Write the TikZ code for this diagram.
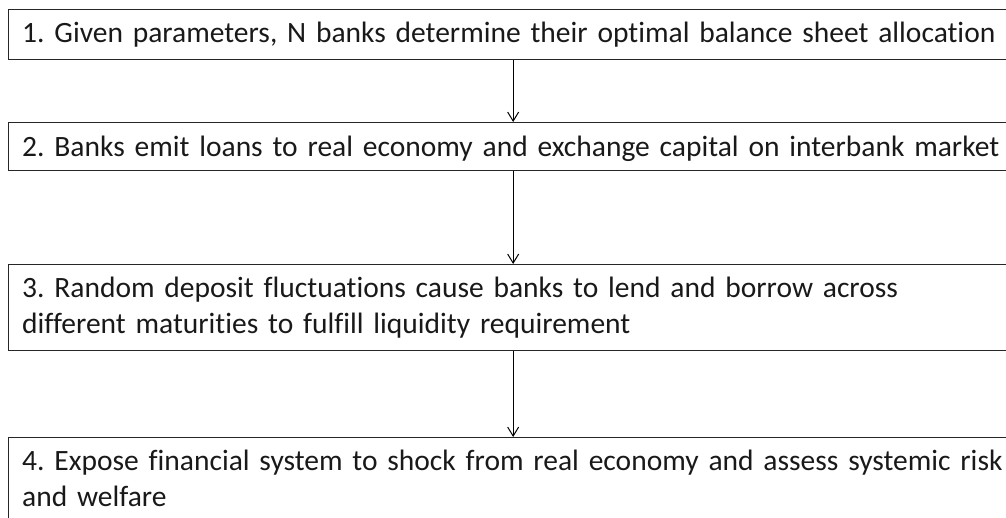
\documentclass[tikz,border=0pt]{standalone}
\usepackage{fontspec}
\setmainfont{Carlito}[Ligatures={NoCommon}]
\usetikzlibrary{arrows.meta}
\begin{document}
\frenchspacing
\begin{tikzpicture}[x=1pt,y=-1pt,
  box/.style={draw=black!85, line width=1.3pt, rectangle, inner sep=0pt, anchor=north west, minimum width=1009pt},
  txt/.style={anchor=base west, inner sep=0pt, text width=990pt, align=left, text=black!90,
    font=\fontsize{29.5}{36}\selectfont},
  arr/.style={draw=black, line width=1pt, -{Straight Barb[length=9pt,width=11pt,line width=1pt]}}]
\useasboundingbox (0,0) rectangle (1006,518);
\node[box, minimum height=50pt] (b1) at (8,9) {};
\node[box, minimum height=48pt] (b2) at (8,122) {};
\node[box, minimum height=86pt] (b3) at (8,264) {};
\node[box, minimum height=110pt] (b4) at (8,437) {};
\node[txt] (t1) at (22,43) {1. Given parameters, N banks determine their optimal balance sheet allocation};
\node[txt] (t2) at (22,157) {2. Banks emit loans to real economy and exchange capital on interbank market};
\node[txt] (t3) at (22,298) {3. Random deposit fluctuations cause banks to lend and borrow across\\different maturities to fulfill liquidity requirement};
\node[txt] (t4) at (22,470) {4. Expose financial system to shock from real economy and assess systemic risk\\and welfare};
\draw[arr] (b1.south) -- (b2.north);
\draw[arr] (b2.south) -- (b3.north);
\draw[arr] (b3.south) -- (b4.north);
\end{tikzpicture}
\end{document}
